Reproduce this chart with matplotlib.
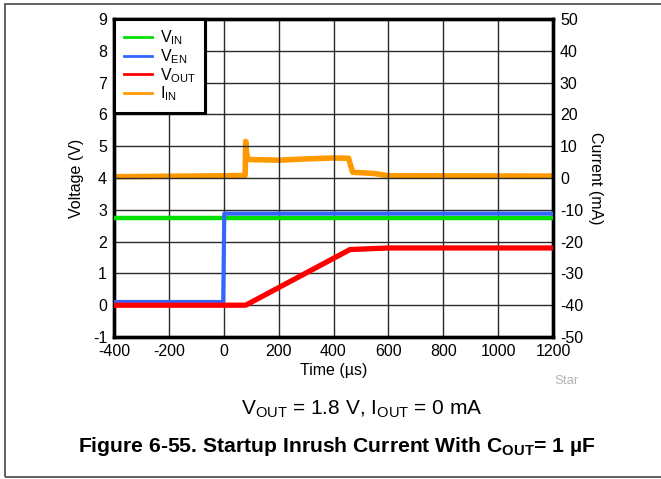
import matplotlib
matplotlib.use("Agg")
import matplotlib.pyplot as plt
from matplotlib.patches import Rectangle

plt.rcParams['font.family'] = ['Liberation Sans', 'DejaVu Sans']
plt.rcParams['mathtext.fontset'] = 'custom'
plt.rcParams['mathtext.rm'] = 'Liberation Sans'
plt.rcParams['mathtext.it'] = 'Liberation Sans'
plt.rcParams['mathtext.bf'] = 'Liberation Sans:bold'
plt.rcParams['axes.unicode_minus'] = False

# scope traces, breakpoints in (time us, value)
t_vin = [-400, 1200]
v_vin = [2.75, 2.75]

t_ven = [-400, -2, 2, 1200]
v_ven = [0.1, 0.1, 2.88, 2.88]

t_vout = [-400, 80, 460, 600, 1200]
v_vout = [0.0, 0.0, 1.75, 1.8, 1.8]

# input current in mA (right axis)
t_iin = [-400, 0, 78, 80, 83, 88, 95, 200, 300, 400, 455, 462, 470, 550, 600, 1200]
i_iin = [0.4, 0.7, 0.8, 11.5, 8.0, 6.0, 5.8, 5.6, 6.0, 6.3, 6.2, 4.0, 1.8, 1.4, 0.7, 0.6]

x_ticks = [-400, -200, 0, 200, 400, 600, 800, 1000, 1200]
v_ticks = [-1, 0, 1, 2, 3, 4, 5, 6, 7, 8, 9]
i_ticks = [-50, -40, -30, -20, -10, 0, 10, 20, 30, 40, 50]

fs = 11.5

fig = plt.figure(figsize=(6.61, 4.79), dpi=100)
ax = fig.add_axes([114 / 661, 1 - 337 / 479, 439 / 661, 318 / 479])
ax2 = ax.twinx()

ax.set_xlim(-400, 1200)
ax.set_ylim(-1, 9)
ax2.set_ylim(-50, 50)
ax.set_xticks(x_ticks)
ax.set_yticks(v_ticks)
ax2.set_yticks(i_ticks)
ax.grid(True, color='#2a2a2a', linewidth=1.0)
ax.set_axisbelow(True)

ax.plot(t_vin, v_vin, color='#00e000', linewidth=3.2, label='V$_{\\mathrm{IN}}$', zorder=3)
ax.plot(t_ven, v_ven, color='#3366ff', linewidth=3.0, label='V$_{\\mathrm{EN}}$', zorder=4)
ax.plot(t_vout, v_vout, color='#ff0000', linewidth=3.8, label='V$_{\\mathrm{OUT}}$', zorder=5)
ln_i, = ax2.plot(t_iin, i_iin, color='#ff9900', linewidth=4.0, label='I$_{\\mathrm{IN}}$')

for a in (ax, ax2):
    a.tick_params(length=0, labelsize=fs, pad=5)
    for s in a.spines.values():
        s.set_linewidth(2.4)
        s.set_color('black')

ax.set_xlabel('Time (µs)', fontsize=fs, labelpad=3)
ax.set_ylabel('Voltage (V)', fontsize=fs, labelpad=6)
ax2.set_ylabel('Current (mA)', fontsize=fs, rotation=270, labelpad=14)

handles = ax.get_lines() + [ln_i]
leg = ax.legend(handles=handles, loc='upper left', bbox_to_anchor=(0, 1),
                borderaxespad=0, fancybox=False, framealpha=1, fontsize=fs,
                handlelength=1.75, handletextpad=0.5, labelspacing=0.0,
                borderpad=0.6)
leg.get_frame().set_edgecolor('black')
leg.get_frame().set_linewidth(2.2)
for h in leg.get_lines():
    h.set_linewidth(2.0)
leg.set_zorder(10)
ax.set_zorder(ax2.get_zorder() + 1)
ax.patch.set_visible(False)
ax.add_artist(leg)

fig.text(567 / 661, 1 - 381 / 479, 'Star', fontsize=9.5, color='#b4b4b4', ha='center', va='center')
fig.text(362 / 661, 1 - 409 / 479, 'V$_{\\mathrm{OUT}}$ = 1.8 V, I$_{\\mathrm{OUT}}$ = 0 mA',
         fontsize=15, ha='center', va='center')
fig.text(337 / 661, 1 - 446 / 479,
         r'Figure 6-55. Startup Inrush Current With C$_{\mathbf{OUT}}$= 1 µF',
         fontsize=15.2, fontweight='bold', ha='center', va='center')

fig.patches.append(Rectangle((5 / 661, 1 - 477 / 479), 700 / 661, 473.5 / 479,
                             transform=fig.transFigure, fill=False,
                             edgecolor='#555555', linewidth=1.3))

fig.savefig('out.png', dpi=100)
